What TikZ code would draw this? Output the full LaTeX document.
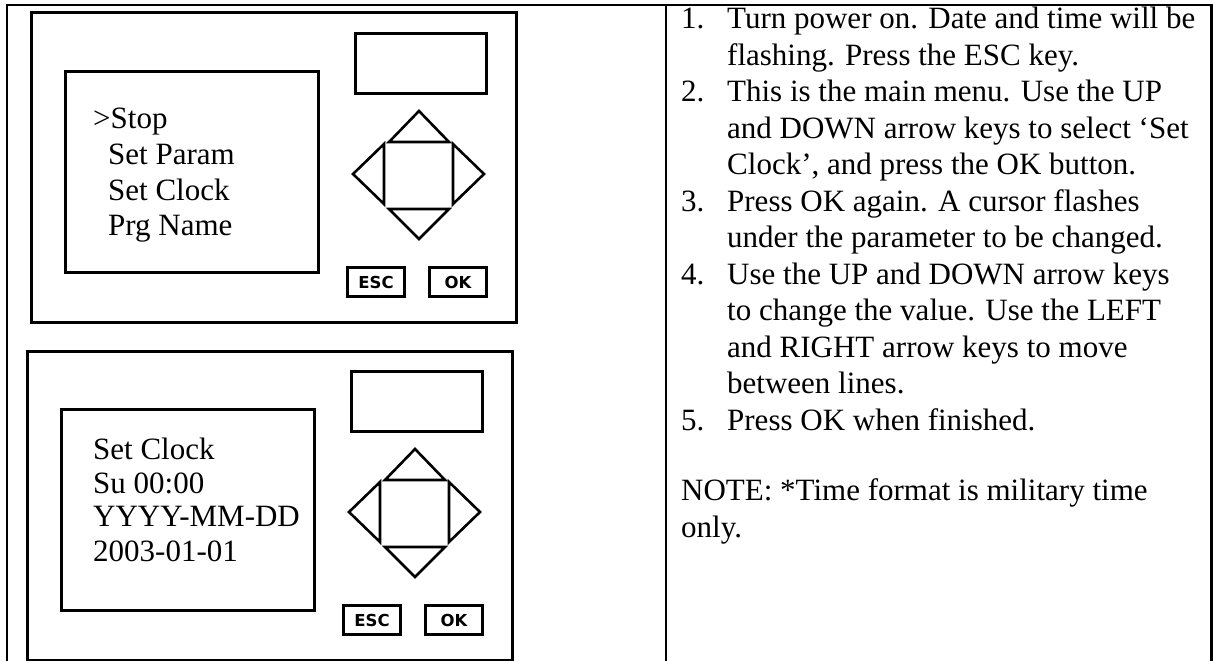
\documentclass[tikz,border=0pt]{standalone}
\usepackage{fontspec}
\setmainfont{Liberation Serif}
\newfontfamily\keyfont{DejaVu Sans}
\tikzset{
    table-line/.style = {draw=black, line width=2.5pt},
    panel-line/.style = {draw=black, line width=3pt},
    arrow-key/.style = {draw=black, line width=2.6pt, line join=miter},
    box-part/.style = {panel-line, rectangle, inner sep=0pt, anchor=north west},
    key-box/.style = {box-part, minimum width=57pt, minimum height=29pt, font=\keyfont\bfseries\fontsize{16.5}{20}\selectfont},
    screen-text/.style = {anchor=base west, inner sep=0pt, font=\fontsize{31}{36}\selectfont},
    steps-text/.style = {anchor=base west, inner sep=0pt, font=\fontsize{31}{36.5}\selectfont},
    plc/.pic = {
        \draw[panel-line] (0,0) rectangle (485,309);
        \node[box-part, minimum width=253pt, minimum height=201pt] (-screen) at (33,57) {};
        \node[box-part, minimum width=131pt, minimum height=60pt] (-display) at (323,19) {};
        \draw[arrow-key] (388,98) -- (418,129) -- (358,129) -- cycle;
        \draw[arrow-key] (388,226) -- (418,196) -- (358,196) -- cycle;
        \draw[arrow-key] (322,161) -- (353,131) -- (353,191) -- cycle;
        \draw[arrow-key] (453,161) -- (422,131) -- (422,191) -- cycle;
        \node[key-box] (-esc) at (315,253) {ESC};
        \node[key-box] (-ok) at (397,253) {OK};
    },
}

\begin{document}
\begin{tikzpicture}[x=1pt, y=-1pt]
\fill[white] (0,0) rectangle (1213,661);
\useasboundingbox (0,0) rectangle (1213,661);

% table frame
\draw[table-line] (7,661) -- (7,5) -- (1211.5,5) -- (1211.5,661);
\draw[table-line] (666,5) -- (666,661);

% the two panels
\pic (upper) at (31,13) {plc};
\pic (lower) at (27,351) {plc};

% what the screens show
\foreach \x/\y/\txt [count=\i] in {93/128/>Stop, 108/164/Set Param, 108/200/Set Clock, 108/235/Prg Name}
    \node[screen-text] (menu\i) at (\x,\y) {\txt};
\foreach \y/\txt [count=\i] in {459/Set Clock, 493/Su 00:00, 526/YYYY-MM-DD, 561/2003-01-01}
    \node[screen-text] (clock\i) at (93,\y) {\txt};

% instructions
\node[steps-text] (steps) at (681,29) {\begin{tabular}[t]{@{}p{46pt}@{}l@{}}
1. & Turn power on. Date and time will be\\
   & flashing. Press the ESC key.\\
2. & This is the main menu. Use the UP\\
   & and DOWN arrow keys to select ‘Set\\
   & Clock’, and press the OK button.\\
3. & Press OK again. A cursor flashes\\
   & under the parameter to be changed.\\
4. & Use the UP and DOWN arrow keys\\
   & to change the value. Use the LEFT\\
   & and RIGHT arrow keys to move\\
   & between lines.\\
5. & Press OK when finished.\\[34pt]
\multicolumn{2}{@{}l@{}}{NOTE: *Time format is military time}\\
\multicolumn{2}{@{}l@{}}{only.}
\end{tabular}};
\end{tikzpicture}
\end{document}
